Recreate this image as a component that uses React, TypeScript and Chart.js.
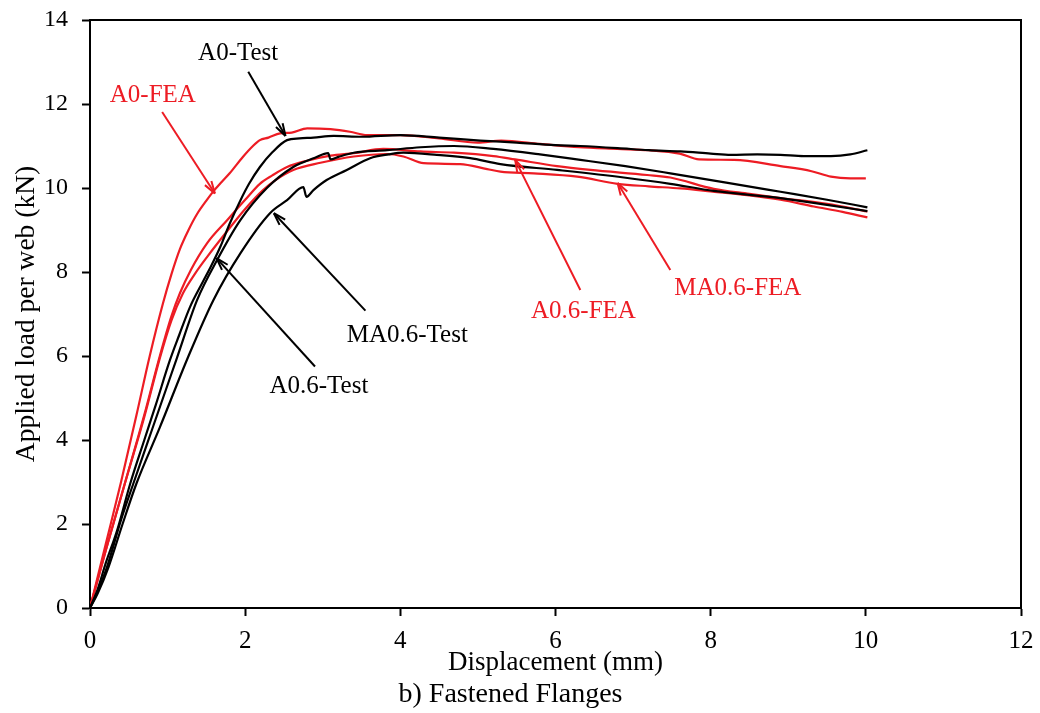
import React, { useEffect, useRef } from 'react';
import { Chart, registerables } from 'chart.js';

Chart.register(...registerables);

const SERIF = '"Liberation Serif", "Times New Roman", serif';
const RED = '#ed1c24';
const BLACK = '#000000';

// ---- Data (displacement mm, load kN) ----
const a0TestX = [0, 0.1, 0.2, 0.35, 0.52, 0.7, 0.85, 1.03, 1.15, 1.29, 1.45, 1.55, 1.68, 1.8, 1.94, 2.05, 2.19, 2.35, 2.54, 2.7, 2.88, 3.14, 3.5, 4.0, 4.5, 5.03, 5.5, 6.0, 6.32, 6.8, 7.2, 7.61, 8.0, 8.26, 8.6, 8.9, 9.2, 9.55, 9.8, 10.02];
const a0TestY = [0, 0.45, 1.05, 1.85, 2.97, 4.0, 4.85, 5.9, 6.5, 7.17, 7.75, 8.1, 8.6, 9.15, 9.71, 10.1, 10.5, 10.85, 11.14, 11.18, 11.2, 11.24, 11.22, 11.26, 11.2, 11.13, 11.08, 11.02, 11.0, 10.95, 10.9, 10.87, 10.82, 10.79, 10.8, 10.79, 10.76, 10.76, 10.8, 10.9];

const a06TestX = [0, 0.1, 0.22, 0.4, 0.56, 0.8, 1.12, 1.38, 1.64, 1.94, 2.28, 2.62, 2.9, 3.07, 3.1, 3.2, 3.4, 3.83, 4.26, 4.69, 5.2, 5.8, 6.32, 6.9, 7.48, 8.2, 8.9, 9.5, 10.02];
const a06TestY = [0, 0.4, 0.98, 2.1, 2.97, 4.25, 5.95, 7.33, 8.29, 9.24, 10.0, 10.5, 10.72, 10.83, 10.68, 10.74, 10.84, 10.9, 10.97, 11.0, 10.93, 10.8, 10.67, 10.52, 10.35, 10.13, 9.91, 9.72, 9.54];

const ma06TestX = [0, 0.1, 0.24, 0.42, 0.6, 0.9, 1.27, 1.59, 1.94, 2.32, 2.54, 2.75, 2.79, 2.88, 3.05, 3.31, 3.61, 3.85, 4.04, 4.47, 4.9, 5.29, 6.02, 6.88, 7.48, 8.04, 8.9, 9.5, 10.02];
const ma06TestY = [0, 0.35, 0.98, 2.0, 2.97, 4.3, 6.0, 7.33, 8.45, 9.4, 9.71, 10.02, 9.79, 9.95, 10.19, 10.43, 10.71, 10.8, 10.84, 10.79, 10.71, 10.57, 10.43, 10.25, 10.1, 9.93, 9.76, 9.6, 9.45];

const a0FeaX = [0, 0.2, 0.4, 0.6, 0.77, 0.94, 1.05, 1.16, 1.27, 1.38, 1.5, 1.59, 1.7, 1.8, 1.97, 2.1, 2.19, 2.3, 2.45, 2.6, 2.8, 3.1, 3.35, 3.57, 4.0, 4.5, 5.0, 5.3, 5.8, 6.3, 6.8, 7.2, 7.6, 7.85, 8.3, 8.9, 9.3, 9.55, 9.8, 10.0];
const a0FeaY = [0, 1.5, 3.0, 4.6, 6.0, 7.25, 7.95, 8.55, 9.0, 9.38, 9.7, 9.92, 10.15, 10.35, 10.74, 11.0, 11.14, 11.2, 11.3, 11.32, 11.42, 11.4, 11.34, 11.26, 11.26, 11.18, 11.08, 11.13, 11.05, 10.97, 10.93, 10.9, 10.82, 10.68, 10.67, 10.52, 10.4, 10.27, 10.23, 10.23];

const a06FeaX = [0, 0.2, 0.45, 0.7, 0.9, 1.05, 1.16, 1.3, 1.51, 1.77, 2.0, 2.19, 2.35, 2.54, 2.8, 3.1, 3.4, 3.78, 4.26, 4.69, 5.2, 5.48, 6.02, 6.45, 7.18, 7.48, 8.04, 8.5, 8.9, 9.5, 10.02];
const a06FeaY = [0, 1.35, 2.97, 4.6, 6.0, 6.95, 7.5, 8.05, 8.69, 9.24, 9.72, 10.1, 10.3, 10.5, 10.65, 10.77, 10.83, 10.93, 10.87, 10.84, 10.76, 10.68, 10.52, 10.43, 10.31, 10.25, 9.98, 9.86, 9.76, 9.62, 9.44];

const ma06FeaX = [0, 0.2, 0.45, 0.7, 0.9, 1.05, 1.2, 1.35, 1.51, 1.81, 2.0, 2.23, 2.4, 2.62, 2.97, 3.4, 3.83, 4.04, 4.3, 4.77, 5.12, 5.29, 5.72, 6.28, 6.8, 7.2, 7.61, 8.0, 8.47, 8.9, 9.33, 9.7, 10.02];
const ma06FeaY = [0, 1.35, 2.97, 4.55, 5.95, 6.85, 7.5, 7.95, 8.36, 9.07, 9.5, 9.95, 10.2, 10.43, 10.6, 10.75, 10.81, 10.75, 10.59, 10.57, 10.45, 10.39, 10.35, 10.27, 10.1, 10.04, 9.99, 9.92, 9.83, 9.72, 9.56, 9.43, 9.3];

// ---- Annotation labels (data coordinates) ----
const labelTexts = ['A0-Test', 'A0-FEA', 'MA0.6-Test', 'A0.6-Test', 'A0.6-FEA', 'MA0.6-FEA'];
const labelColors = [BLACK, RED, BLACK, BLACK, RED, RED];
const labelX = [1.91, 0.81, 4.09, 2.95, 6.36, 8.35];
const labelY = [13.21, 12.21, 6.5, 5.27, 7.05, 7.62];
const arrowFromX = [2.04, 0.93, 3.55, 2.9, 6.32, 7.48];
const arrowFromY = [12.77, 11.81, 7.08, 5.75, 7.57, 8.05];
const arrowToX = [2.52, 1.61, 2.37, 1.63, 5.48, 6.8];
const arrowToY = [11.24, 9.87, 9.4, 8.33, 10.67, 10.12];

const toPts = (xs: number[], ys: number[]) => xs.map((x, i) => ({ x, y: ys[i] }));

const series = [
  { label: 'A0-Test', xs: a0TestX, ys: a0TestY, color: BLACK },
  { label: 'A0.6-Test', xs: a06TestX, ys: a06TestY, color: BLACK },
  { label: 'MA0.6-Test', xs: ma06TestX, ys: ma06TestY, color: BLACK },
  { label: 'A0-FEA', xs: a0FeaX, ys: a0FeaY, color: RED },
  { label: 'A0.6-FEA', xs: a06FeaX, ys: a06FeaY, color: RED },
  { label: 'MA0.6-FEA', xs: ma06FeaX, ys: ma06FeaY, color: RED },
];

const annotationPlugin = {
  id: 'annotArrows',
  afterDatasetsDraw(chart: any) {
    const { ctx, scales } = chart;
    const xs = scales.x;
    const ys = scales.y;
    ctx.save();
    for (let i = 0; i < labelTexts.length; i++) {
      const color = labelColors[i];
      const x1 = xs.getPixelForValue(arrowFromX[i]);
      const y1 = ys.getPixelForValue(arrowFromY[i]);
      const x2 = xs.getPixelForValue(arrowToX[i]);
      const y2 = ys.getPixelForValue(arrowToY[i]);
      ctx.strokeStyle = color;
      ctx.fillStyle = color;
      ctx.lineWidth = 2;
      ctx.beginPath();
      ctx.moveTo(x1, y1);
      ctx.lineTo(x2, y2);
      ctx.stroke();
      const ang = Math.atan2(y2 - y1, x2 - x1);
      const len = 13;
      const spread = 0.3;
      ctx.beginPath();
      ctx.moveTo(x2, y2);
      ctx.lineTo(x2 - len * Math.cos(ang - spread), y2 - len * Math.sin(ang - spread));
      ctx.moveTo(x2, y2);
      ctx.lineTo(x2 - len * Math.cos(ang + spread), y2 - len * Math.sin(ang + spread));
      ctx.stroke();
      ctx.font = `25px ${SERIF}`;
      ctx.textAlign = 'center';
      ctx.textBaseline = 'middle';
      ctx.fillText(labelTexts[i], xs.getPixelForValue(labelX[i]), ys.getPixelForValue(labelY[i]));
    }
    ctx.restore();
  },
  afterDraw(chart: any) {
    const { ctx, chartArea } = chart;
    ctx.save();
    ctx.strokeStyle = BLACK;
    ctx.lineWidth = 2;
    ctx.beginPath();
    ctx.moveTo(chartArea.left, chartArea.top);
    ctx.lineTo(chartArea.right, chartArea.top);
    ctx.lineTo(chartArea.right, chartArea.bottom);
    ctx.stroke();
    ctx.restore();
  },
};

export default function App() {
  const ref = useRef<HTMLCanvasElement | null>(null);
  useEffect(() => {
    document.body.style.margin = '0';
    const chart = new Chart(ref.current as HTMLCanvasElement, {
      type: 'scatter',
      data: {
        datasets: series.map((s) => ({
          label: s.label,
          data: toPts(s.xs, s.ys),
          showLine: true,
          borderColor: s.color,
          backgroundColor: s.color,
          borderWidth: 2.2,
          pointRadius: 0,
          cubicInterpolationMode: 'monotone' as const,
          fill: false,
        })),
      },
      options: {
        animation: false,
        responsive: true,
        maintainAspectRatio: false,
        devicePixelRatio: 1,
        layout: { padding: { top: 20, right: 19, left: 0, bottom: 0 } },
        plugins: {
          legend: { display: false },
          tooltip: { enabled: false },
          title: {
            display: true,
            position: 'bottom',
            text: 'b) Fastened Flanges',
            color: BLACK,
            font: { family: SERIF, size: 28, weight: 'normal', lineHeight: 1.2 },
            padding: { top: 0, bottom: 2 },
          },
        },
        scales: {
          x: {
            type: 'linear',
            min: 0,
            max: 12,
            ticks: { stepSize: 2, color: BLACK, font: { family: SERIF, size: 25 }, padding: 10, maxRotation: 0 },
            grid: { drawOnChartArea: false, drawTicks: true, tickLength: 8, tickWidth: 2, tickColor: BLACK },
            border: { display: true, color: BLACK, width: 2 },
            title: {
              display: true,
              text: 'Displacement (mm)',
              color: BLACK,
              font: { family: SERIF, size: 27, lineHeight: 1 },
              padding: { top: 0, bottom: 1 },
            },
            afterFit: (s: any) => {
              s.height = 69.4;
              s.paddingLeft = 0;
              s.paddingRight = 0;
            },
          },
          y: {
            type: 'linear',
            min: 0,
            max: 14,
            ticks: { stepSize: 2, color: BLACK, font: { family: SERIF, size: 24 }, padding: 14 },
            grid: { drawOnChartArea: false, drawTicks: true, tickLength: 8, tickWidth: 2, tickColor: BLACK },
            border: { display: true, color: BLACK, width: 2 },
            title: {
              display: true,
              text: 'Applied load per web (kN)',
              color: BLACK,
              font: { family: SERIF, size: 27.5, lineHeight: 1 },
              padding: { top: 13.5, bottom: 0 },
            },
            afterFit: (s: any) => {
              s.width = 90;
              s.paddingTop = 0;
              s.paddingBottom = 0;
            },
          },
        },
      },
      plugins: [annotationPlugin],
    } as any);
    return () => chart.destroy();
  }, []);
  return (
    <div style={{ width: 1040, height: 713, position: 'relative' }}>
      <canvas ref={ref} />
    </div>
  );
}
